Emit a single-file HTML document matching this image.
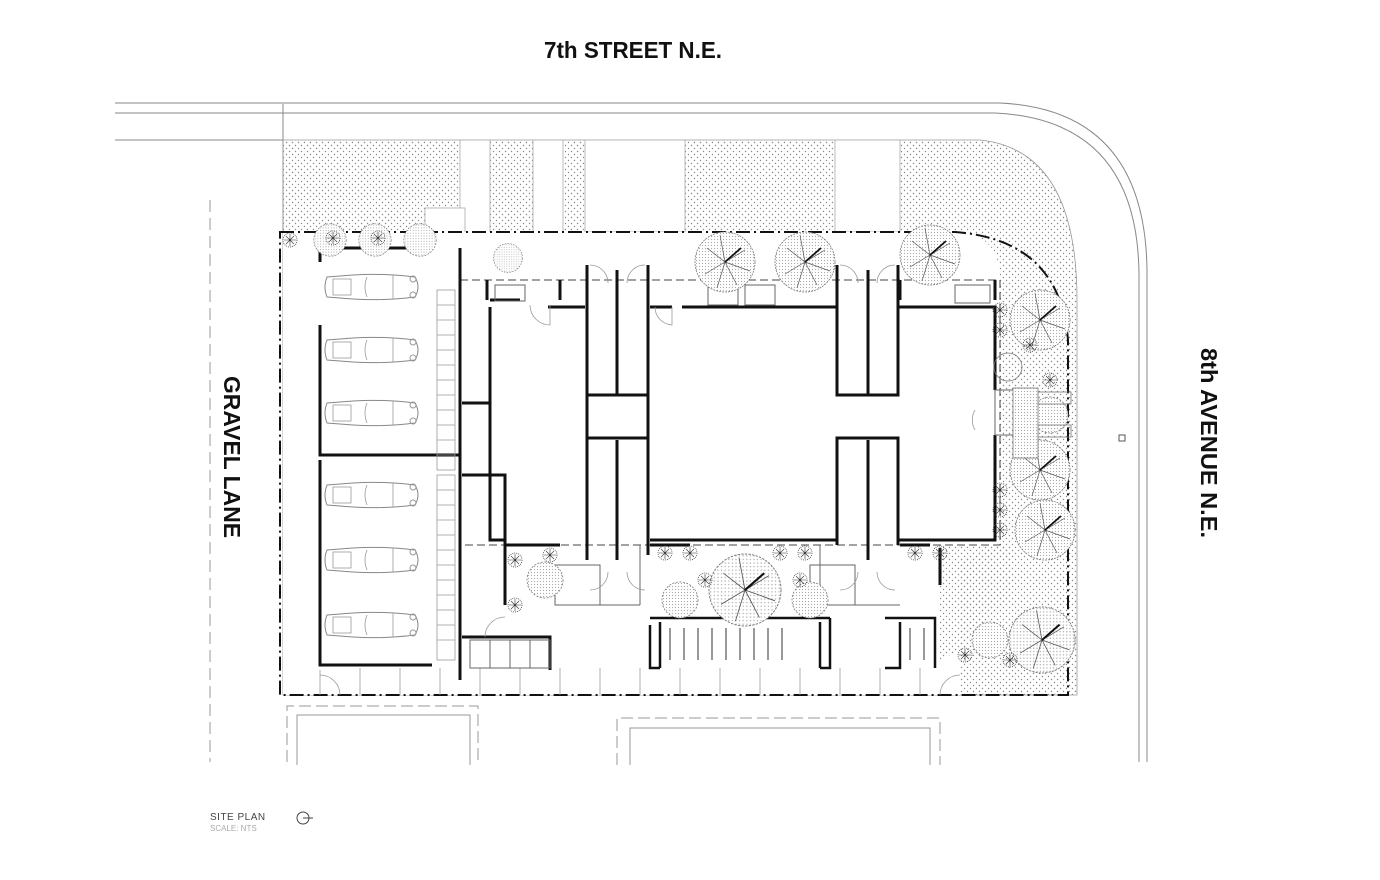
<!DOCTYPE html>
<html><head><meta charset="utf-8"><style>
html,body{margin:0;padding:0;background:#fff;}
svg{display:block;}
.t{font-family:"Liberation Sans Narrow","Liberation Sans",sans-serif;font-weight:bold;fill:#111;}
</style></head><body>
<svg width="1380" height="880" viewBox="0 0 1380 880" xmlns="http://www.w3.org/2000/svg">
<defs>
<pattern id="dots" width="6" height="6" patternUnits="userSpaceOnUse">
<circle cx="1.5" cy="1.5" r="0.7" fill="#888"/><circle cx="4.5" cy="4.5" r="0.7" fill="#888"/>
</pattern>
<pattern id="fine" width="3" height="3" patternUnits="userSpaceOnUse">
<rect width="3" height="3" fill="#fff"/><circle cx="1.5" cy="1.5" r="0.6" fill="#aaa"/>
</pattern>
<g id="car">
<path d="M4,12 Q0,22 4,32 L30,34 Q60,36 92,32 Q98,22 92,12 Q60,8 30,10 Z" fill="none" stroke="#888" stroke-width="1"/>
<rect x="10" y="14" width="18" height="16" fill="none" stroke="#999" stroke-width="0.8"/>
<path d="M44,12 Q40,22 44,32 M70,10 L70,34" fill="none" stroke="#999" stroke-width="0.8"/>
<circle cx="90" cy="14" r="3" fill="none" stroke="#999"/><circle cx="90" cy="30" r="3" fill="none" stroke="#999"/>
</g>
<g id="tree">
<circle r="30" fill="url(#fine)" stroke="#777" stroke-width="0.8" stroke-dasharray="2 1"/>
<path d="M0,0 L20,-12 M0,0 L-18,-14 M0,0 L-20,12 M0,0 L12,23 M0,0 L-5,-27 M0,0 L25,9 M0,0 L-8,26" stroke="#555" stroke-width="0.7"/>
<path d="M0,0 L16,-14" stroke="#111" stroke-width="1.8"/>
</g>
<g id="shrub">
<circle r="7" fill="none" stroke="#444" stroke-width="0.8" stroke-dasharray="1 1"/>
<path d="M-6,0 H6 M0,-6 V6 M-4,-4 L4,4 M-4,4 L4,-4" stroke="#333" stroke-width="0.6"/>
</g>
<g id="bush">
<circle r="18" fill="url(#fine)" stroke="#777" stroke-width="0.8" stroke-dasharray="2 1.5"/>
</g>
</defs>

<g fill="none" stroke="#888" stroke-width="1">
<path d="M115,103 H1000 Q1145,110 1147,270 V762"/>
<path d="M115,113 H995 Q1138,120 1139,275 V762"/>
<path d="M115,140 H283"/>
<path d="M283,104 V232"/>
</g>

<path d="M283,140 H980 Q1077,150 1077,300 V695 H283 Z" fill="url(#dots)" stroke="#999" stroke-width="0.8"/>
<g fill="#fff" stroke="#aaa" stroke-width="0.8">
<rect x="460" y="140" width="30" height="140"/>
<rect x="533" y="140" width="30" height="140"/>
<rect x="585" y="140" width="100" height="92"/>
<rect x="835" y="140" width="65" height="92"/>
<rect x="425" y="208" width="40" height="30"/>
</g>
<path d="M283,232 H960 Q1000,236 1000,280 V545 L960,560 V695 H283 Z" fill="#fff"/>
<path d="M940,545 H1010 V600 Q980,620 960,650 L940,660 Z" fill="url(#dots)"/>

<g fill="none" stroke="#111" stroke-width="2" stroke-dasharray="14 4 2 4">
<path d="M280,232 H955 Q1060,240 1068,340 V695 H280 Z"/>
</g>
<line x1="210" y1="200" x2="210" y2="762" stroke="#999" stroke-width="1" stroke-dasharray="12 6"/>

<g fill="none" stroke="#444" stroke-width="1" stroke-dasharray="8 4">
<path d="M460,280 H1000 V545 H462"/>
</g>

<g fill="none" stroke="#111" stroke-width="3">
<path d="M320,262 V248 H430"/>
<path d="M320,325 V455 H460"/>
<path d="M320,460 V665 H432"/>
<path d="M460,248 V680"/>
</g>
<g fill="none" stroke="#999" stroke-width="0.8">
<rect x="437" y="290" width="18" height="180"/><rect x="437" y="475" width="18" height="185"/>
<path d="M437,305 H455 M437,320 H455 M437,335 H455 M437,350 H455 M437,365 H455 M437,380 H455 M437,395 H455 M437,410 H455 M437,425 H455 M437,440 H455 M437,455 H455 M437,490 H455 M437,505 H455 M437,520 H455 M437,535 H455 M437,550 H455 M437,565 H455 M437,580 H455 M437,595 H455 M437,610 H455 M437,625 H455 M437,640 H455"/>
<path d="M320,695 V670 M360,695 V668 M400,695 V668 M440,695 V668 M480,695 V668 M520,695 V668 M560,695 V668 M600,695 V668 M640,695 V668 M680,695 V668 M720,695 V668 M760,695 V668 M800,695 V668 M840,695 V668 M880,695 V668 M920,695 V668"/>
</g>
<use href="#car" transform="translate(323,265)"/>
<use href="#car" transform="translate(323,328)"/>
<use href="#car" transform="translate(323,391)"/>
<use href="#car" transform="translate(323,473)"/>
<use href="#car" transform="translate(323,538)"/>
<use href="#car" transform="translate(323,603)"/>

<g fill="none" stroke="#111" stroke-width="3">
<path d="M462,403 H490"/>
<path d="M462,475 H505 V545"/>
<path d="M490,307 V540 H505"/>
<path d="M490,300 H520 M548,307 H585"/>
<path d="M587,265 V395 H648 V265"/>
<path d="M617,270 V395"/>
<path d="M587,395 V438 H648 V395"/>
<path d="M587,438 V560 M648,438 V555 M617,440 V560"/>
<path d="M650,307 H672 M682,307 H837"/>
<path d="M837,265 V395 H898 V265 M868,270 V395"/>
<path d="M837,545 V438 H898 V545 M868,440 V560"/>
<path d="M898,307 H995 V390 M995,435 V540 H898"/>
<path d="M650,540 H837"/>
<path d="M505,545 H560 M650,545 H690 M900,545 H930"/>
<path d="M462,637 H550 V670"/>
<path d="M487,300 V280 M560,280 V300 M900,280 V300 M995,280 V300"/>
<path d="M505,545 V605 M940,548 V585"/>
</g>
<g fill="none" stroke="#666" stroke-width="1">
<rect x="495" y="285" width="30" height="16"/><rect x="708" y="285" width="30" height="20"/><rect x="745" y="285" width="30" height="20"/>
<rect x="955" y="285" width="35" height="18"/>
<rect x="555" y="565" width="45" height="40"/><rect x="810" y="565" width="45" height="40"/>
<rect x="470" y="640" width="80" height="28"/>
<path d="M490,640 V668 M510,640 V668 M530,640 V668"/>
<path d="M555,605 H640 M820,605 H900 M640,545 V605 M820,545 V605"/>
<rect x="995" y="390" width="20" height="45"/>
</g>
<g fill="none" stroke="#999" stroke-width="0.8">
<path d="M530,305 A20,20 0 0 0 550,325 V305"/>
<path d="M655,307 A18,18 0 0 0 672,325 V307"/>
<path d="M975,410 A20,20 0 0 0 975,430"/>
<path d="M590,265 A18,18 0 0 1 608,283 M645,265 A18,18 0 0 0 627,283"/>
<path d="M840,265 A18,18 0 0 1 858,283 M895,265 A18,18 0 0 0 877,283"/>
<path d="M590,590 A18,18 0 0 0 608,572 M645,590 A18,18 0 0 1 627,572"/>
<path d="M840,590 A18,18 0 0 0 858,572 M895,590 A18,18 0 0 1 877,572"/>
<path d="M485,637 A20,20 0 0 1 505,617"/>
<path d="M320,675 A20,20 0 0 1 340,695"/>
<path d="M940,695 A20,20 0 0 1 960,675"/>
</g>

<g fill="none" stroke="#111" stroke-width="2.5">
<path d="M650,625 V668 H660 M650,618 H830 M830,618 V668 H820"/>
<path d="M660,622 V668 M820,622 V668"/>
<path d="M885,618 H935 V668 M885,668 H900 V622"/>
</g>
<g stroke="#333" stroke-width="1">
<path d="M670,628 V660 M684,628 V660 M698,628 V660 M712,628 V660 M726,628 V660 M740,628 V660 M754,628 V660 M768,628 V660 M782,628 V660 M910,628 V660 M924,628 V660"/>
</g>

<g>
<use href="#bush" transform="translate(330,240) scale(0.9)"/>
<use href="#bush" transform="translate(375,240) scale(0.9)"/>
<use href="#bush" transform="translate(420,240) scale(0.9)"/>
<use href="#shrub" transform="translate(290,240)"/>
<use href="#shrub" transform="translate(333,238)"/>
<use href="#shrub" transform="translate(378,238)"/>
<use href="#bush" transform="translate(508,258) scale(0.8)"/>
<use href="#tree" transform="translate(725,262)"/>
<use href="#tree" transform="translate(805,262)"/>
<use href="#tree" transform="translate(930,255)"/>
<use href="#tree" transform="translate(1040,320)"/>
<use href="#tree" transform="translate(1040,470)"/>
<use href="#tree" transform="translate(1045,530)"/>
<use href="#tree" transform="translate(1042,640) scale(1.1)"/>
<use href="#tree" transform="translate(745,590) scale(1.2)"/>
<use href="#bush" transform="translate(545,580)"/>
<use href="#bush" transform="translate(680,600)"/>
<use href="#bush" transform="translate(810,600)"/>
<use href="#bush" transform="translate(990,640)"/>
<use href="#bush" transform="translate(1050,415)"/>
<use href="#shrub" transform="translate(1000,310)"/><use href="#shrub" transform="translate(1000,330)"/>
<use href="#shrub" transform="translate(1000,490)"/><use href="#shrub" transform="translate(1000,510)"/><use href="#shrub" transform="translate(1000,530)"/>
<use href="#shrub" transform="translate(1030,345)"/><use href="#shrub" transform="translate(1050,380)"/>
<use href="#shrub" transform="translate(515,560)"/><use href="#shrub" transform="translate(515,605)"/><use href="#shrub" transform="translate(550,555)"/>
<use href="#shrub" transform="translate(665,553)"/><use href="#shrub" transform="translate(690,553)"/><use href="#shrub" transform="translate(705,580)"/><use href="#shrub" transform="translate(800,580)"/>
<use href="#shrub" transform="translate(780,553)"/><use href="#shrub" transform="translate(805,553)"/>
<use href="#shrub" transform="translate(915,553)"/><use href="#shrub" transform="translate(940,553)"/>
<use href="#shrub" transform="translate(965,655)"/><use href="#shrub" transform="translate(1010,660)"/>
</g>
<g fill="none" stroke="#777" stroke-width="0.8">
<circle cx="1008" cy="367" r="14"/>
<rect x="1038" y="392" width="33" height="12"/><rect x="1038" y="425" width="33" height="12"/>
<rect x="1013" y="388" width="25" height="70" fill="url(#fine)"/>
</g>

<g fill="none" stroke="#999" stroke-width="1">
<path d="M287,762 V706 H478 V762" stroke-dasharray="12 5"/>
<path d="M297,765 V715 H470 V765"/>
<path d="M617,765 V718 H940 V765" stroke-dasharray="12 5"/>
<path d="M630,765 V728 H930 V765"/>
</g>
<rect x="1119" y="435" width="6" height="6" fill="none" stroke="#555"/>

<text class="t" x="633" y="58" font-size="23" text-anchor="middle" textLength="178" lengthAdjust="spacingAndGlyphs">7th STREET N.E.</text>
<text class="t" font-size="23" transform="translate(224,376) rotate(90)" textLength="162" lengthAdjust="spacingAndGlyphs">GRAVEL LANE</text>
<text class="t" font-size="23" transform="translate(1201,348) rotate(90)" textLength="190" lengthAdjust="spacingAndGlyphs">8th AVENUE N.E.</text>
<text x="210" y="820" font-family="Liberation Sans,sans-serif" font-size="10" fill="#444" letter-spacing="0.5">SITE PLAN</text>
<text x="210" y="831" font-family="Liberation Sans,sans-serif" font-size="8" fill="#aaa">SCALE: NTS</text>
<circle cx="303" cy="818" r="6" fill="none" stroke="#444" stroke-width="1"/>
<line x1="303" y1="818" x2="313" y2="818" stroke="#444" stroke-width="1"/>
</svg>
</body></html>
